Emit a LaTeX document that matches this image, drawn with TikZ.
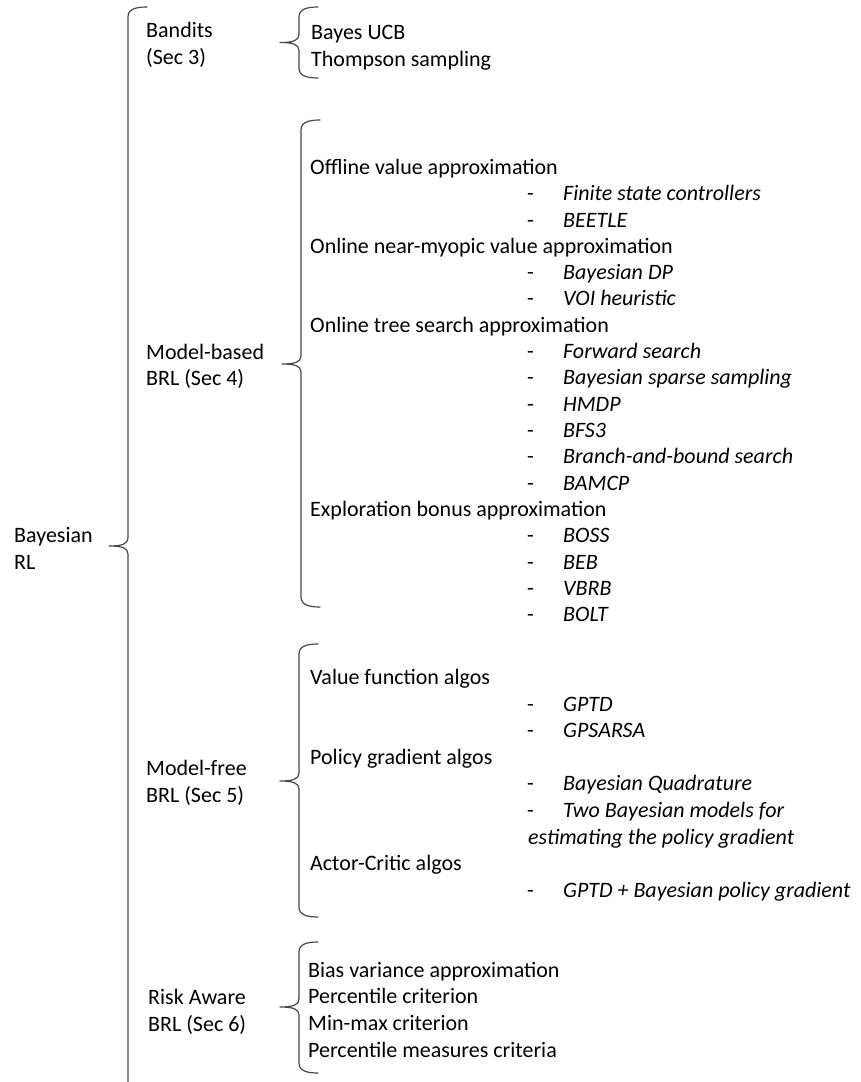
\documentclass[tikz,border=0pt]{standalone}
\usepackage{fontspec}
\setmainfont{Carlito}
\newcommand{\diagfont}{\fontsize{22pt}{26.5pt}\selectfont}
\tikzset{
  label-text/.style={anchor=base west, inner sep=0pt},
  leaf-text/.style={label-text, font=\diagfont\itshape},
  brace-line/.style={draw=black!72, line width=1.2pt, line cap=round, line join=round}
}
% brace: name, x of hook ends, top y, bottom y, tip y
\newcommand{\drawbrace}[5]{
  \pgfmathsetmacro{\bx}{#2-19}
  \pgfmathsetmacro{\bmid}{#5}
  \coordinate (#1-tip) at (#2-38,\bmid);
  \draw[brace-line] (#2,#3) .. controls (#2-13,#3) and (\bx,#3+3) .. (\bx,#3+10)
    -- (\bx,\bmid-8) .. controls (\bx,\bmid-2) and (\bx-6,\bmid) .. (#1-tip)
    .. controls (\bx-6,\bmid) and (\bx,\bmid+2) .. (\bx,\bmid+8)
    -- (\bx,#4-10) .. controls (\bx,#4-3) and (#2-13,#4) .. (#2,#4);
}
% leaf with dash: name, baseline y, text
\newcommand{\leaf}[3]{
  \node[leaf-text] (#1) at (527,#2) {\makebox[36pt][l]{\upshape -}#3};
}

\begin{document}
\begin{tikzpicture}[x=1pt, y=-1pt, font=\diagfont]
  \useasboundingbox (0,0) rectangle (860,1082);

  % root
  \drawbrace{root}{147}{7}{1110}{546}
  \node[label-text] (bayes-rl) at (14,542) {Bayesian};
  \node[label-text] (bayes-rl-2) at (14,569) {RL};

  % Bandits
  \drawbrace{bandits}{318}{7}{78}{42.5}
  \node[label-text] (bandits) at (146,37) {Bandits};
  \node[label-text] (bandits-sec) at (146,64) {(Sec 3)};
  \node[label-text] (bayes-ucb) at (311,39) {Bayes UCB};
  \node[label-text] (thompson) at (311,66) {Thompson sampling};

  % Model-based
  \drawbrace{model-based}{320}{120}{607}{364}
  \node[label-text] (model-based) at (146,359) {Model-based};
  \node[label-text] (model-based-sec) at (146,385) {BRL (Sec 4)};
  \node[label-text] (offline) at (310,174) {Offline value approximation};
  \leaf{fsc}{200}{Finite state controllers}
  \leaf{beetle}{227}{BEETLE}
  \node[label-text] (near-myopic) at (310,253) {Online near-myopic value approximation};
  \leaf{bdp}{279}{Bayesian DP}
  \leaf{voi}{305}{VOI heuristic}
  \node[label-text] (tree-search) at (310,332) {Online tree search approximation};
  \leaf{forward}{358}{Forward search}
  \leaf{sparse}{384}{Bayesian sparse sampling}
  \leaf{hmdp}{411}{HMDP}
  \leaf{bfs3}{437}{BFS3}
  \leaf{bnb}{463}{Branch-and-bound search}
  \leaf{bamcp}{490}{BAMCP}
  \node[label-text] (bonus) at (310,516) {Exploration bonus approximation};
  \leaf{boss}{542}{BOSS}
  \leaf{beb}{569}{BEB}
  \leaf{vbrb}{595}{VBRB}
  \leaf{bolt}{621}{BOLT}

  % Model-free
  \drawbrace{model-free}{318}{644}{917}{781}
  \node[label-text] (model-free) at (146,775) {Model-free};
  \node[label-text] (model-free-sec) at (146,802) {BRL (Sec 5)};
  \node[label-text] (value-fn) at (310,684) {Value function algos};
  \leaf{gptd}{711}{GPTD}
  \leaf{gpsarsa}{737}{GPSARSA}
  \node[label-text] (policy-grad) at (310,764) {Policy gradient algos};
  \leaf{quadrature}{790}{Bayesian Quadrature}
  \leaf{two-models}{817}{Two Bayesian models for}
  \node[leaf-text] (two-models-2) at (528,844) {estimating the policy gradient};
  \node[label-text] (actor-critic) at (310,870) {Actor-Critic algos};
  \leaf{gptd-bpg}{897}{GPTD + Bayesian policy gradient}

  % Risk aware
  \drawbrace{risk}{318}{942}{1073}{1007}
  \node[label-text] (risk) at (148,1004) {Risk Aware};
  \node[label-text] (risk-sec) at (148,1031) {BRL (Sec 6)};
  \node[label-text] (bias-var) at (308,977) {Bias variance approximation};
  \node[label-text] (percentile) at (308,1003) {Percentile criterion};
  \node[label-text] (min-max) at (308,1030) {Min-max criterion};
  \node[label-text] (percentile-measures) at (308,1057) {Percentile measures criteria};
\end{tikzpicture}
\end{document}
